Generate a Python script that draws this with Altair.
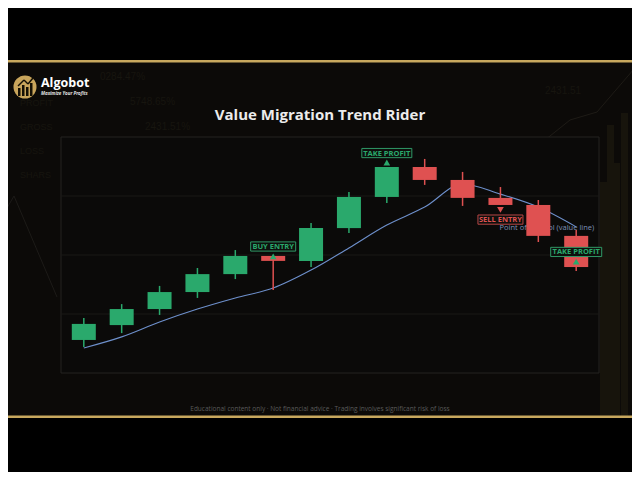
import altair as alt
import pandas as pd

# ---------------- data ----------------
idx = list(range(14))
opens = [14.0, 20.3, 27.1, 34.3, 41.9, 49.6, 47.5, 61.4, 74.6, 87.3, 81.8, 74.2, 71.2, 58.1]
closes = [20.8, 27.1, 34.3, 41.9, 49.6, 47.5, 61.4, 74.6, 87.3, 81.8, 74.2, 71.2, 58.1, 44.9]
highs = [23.3, 29.2, 36.9, 44.5, 52.1, 49.6, 63.6, 76.7, 87.3, 90.7, 85.2, 78.8, 73.3, 60.6]
lows = [11.0, 16.9, 24.6, 31.8, 39.8, 35.2, 44.9, 59.3, 72.0, 79.7, 70.8, 71.2, 55.5, 43.2]
value_line = [10.6, 15.3, 21.6, 27.1, 31.8, 36.0, 43.6, 53.0, 62.7, 70.3, 80.1, 75.8, 70.3, 61.9]

grid_values = [25, 50, 75]

label_text = ["BUY ENTRY", "TAKE PROFIT", "SELL ENTRY", "TAKE PROFIT"]
label_idx = [5, 8, 11, 13]
label_y = [53.6, 93.2, 65.0, 51.3]
label_w = [45, 50, 45, 51]
label_kind = ["buy", "buy", "sell", "buy"]
marker_y = [49.4, 89.2, 69.1, 47.2]
marker_shape = ["triangle-up", "triangle-up", "triangle-down", "triangle-up"]

poc_text = "Point of Control (value line)"
poc_idx = 13
poc_y = 61.3

title_text = "Value Migration Trend Rider"
footer_text = "Educational content only  \u00b7  Not financial advice  \u00b7  Trading involves significant risk of loss"

GREEN = "#2aa96c"
RED = "#df5151"
GOLD = "#c8a85e"
W, H = 538, 236

candles = pd.DataFrame({"i": idx, "open": opens, "close": closes, "high": highs, "low": lows})
candles["dir"] = ["up" if c >= o else "down" for o, c in zip(opens, closes)]
line_df = pd.DataFrame({"i": idx, "v": value_line})
grid_df = pd.DataFrame({"g": grid_values})
labels = pd.DataFrame({"i": label_idx, "y": label_y, "w": label_w, "t": label_text,
                       "kind": label_kind, "my": marker_y, "shape": marker_shape})
labels["y0"] = labels["y"] - 1.95
labels["y1"] = labels["y"] + 1.95
poc_df = pd.DataFrame({"i": [poc_idx], "y": [poc_y], "t": [poc_text]})

xs = alt.Scale(domain=[-0.47, 13.47], nice=False, zero=False)
ys = alt.Scale(domain=[0, 100], nice=False, zero=False)
X = lambda f: alt.X(f, type="quantitative", scale=xs, axis=None)
Y = lambda f: alt.Y(f, type="quantitative", scale=ys, axis=None)
dirc = alt.Color("dir:N", scale=alt.Scale(domain=["up", "down"], range=[GREEN, RED]), legend=None)
kindc = alt.Color("kind:N", scale=alt.Scale(domain=["buy", "sell"], range=[GREEN, RED]), legend=None)

one = alt.Data(values=[{"a": 1}])

# page coordinate -> plot coordinate (plot origin at page (61,137))
def px(x):
    return x - 61

def py(y):
    return y - 137

def rect(x0, y0, x1, y1, color, **kw):
    return alt.Chart(one).mark_rect(color=color, **kw).encode(
        x=alt.value(px(x0)), x2=alt.value(px(x1)), y=alt.value(py(y0)), y2=alt.value(py(y1)))

def seg(x0, y0, x1, y1, color, w=1):
    return alt.Chart(one).mark_rule(color=color, strokeWidth=w).encode(
        x=alt.value(px(x0)), x2=alt.value(px(x1)), y=alt.value(py(y0)), y2=alt.value(py(y1)))

def txt(x, y, s, size, color, **kw):
    return alt.Chart(one).mark_text(text=s, fontSize=size, color=color, baseline="middle", **kw).encode(
        x=alt.value(px(x)), y=alt.value(py(y)))

layers = []
# frame
layers.append(rect(0, 62, 640, 417, "#0c0a08"))
# ghost background decorations
ghost = "#17150f"
layers += [
    txt(100, 77, "0284.47%", 10, ghost, align="left"),
    txt(130, 102, "5748.65%", 10, ghost, align="left"),
    txt(145, 127, "2431.51%", 10, ghost, align="left"),
    txt(20, 103, "PROFIT", 9, ghost, align="left"),
    txt(20, 127, "GROSS", 9, ghost, align="left"),
    txt(20, 151, "LOSS", 9, ghost, align="left"),
    txt(20, 175, "SHARS", 9, ghost, align="left"),
    txt(545, 91, "2431.51", 10, ghost, align="left"),
    seg(0, 220, 14, 196, "#1d1b18"),
    seg(14, 196, 57, 297, "#1d1b18"),
    seg(545, 140, 570, 120, "#1e1b16"),
    seg(570, 120, 597, 112, "#1e1b16"),
    seg(597, 112, 640, 62, "#1e1b16"),
]
for (x0, x1, y0) in [(600, 607, 182), (607, 614, 125), (614, 620, 163), (621, 628, 113), (633, 640, 123)]:
    layers.append(rect(x0, y0, x1, 416, "#17140c"))
# gold lines
layers.append(rect(0, 60, 640, 62.5, GOLD))
layers.append(rect(0, 415.5, 640, 418, GOLD))
# panel
layers.append(alt.Chart(one).mark_rect(fill="#0b0a09", stroke="#252320", strokeWidth=1).encode(
    x=alt.value(0), x2=alt.value(W), y=alt.value(0), y2=alt.value(H)))
# grid
layers.append(alt.Chart(grid_df).mark_rule(color="#1a1816", strokeWidth=1).encode(
    y=Y("g"), x=alt.value(0), x2=alt.value(W)))
# point of control label
layers.append(alt.Chart(poc_df).mark_text(align="right", baseline="middle", dx=18, fontSize=7.5,
                                          font="Open Sans", color="#7d91b8").encode(
    x=X("i"), y=Y("y"), text="t:N"))
# value line
layers.append(alt.Chart(line_df).mark_line(color="#6e90cc", strokeWidth=1.1, interpolate="monotone").encode(
    x=X("i"), y=Y("v")))
# wicks and bodies
layers.append(alt.Chart(candles).mark_rule(strokeWidth=1.5).encode(
    x=X("i"), y=Y("low"), y2="high", color=dirc))
layers.append(alt.Chart(candles).mark_bar(size=24, opacity=1).encode(
    x=X("i"), y=Y("open"), y2="close", color=dirc))
# signal markers
for shp in ["triangle-up", "triangle-down"]:
    layers.append(alt.Chart(labels[labels["shape"] == shp]).mark_point(
        shape=shp, filled=True, size=45, opacity=1).encode(x=X("i"), y=Y("my"), color=kindc))
# signal labels
layers.append(alt.Chart(labels).mark_bar(fill="#0e100d", strokeWidth=1, opacity=1).encode(
    x=X("i"), y=Y("y0"), y2="y1", size=alt.Size("w:Q", scale=None, legend=None),
    stroke=alt.Stroke("kind:N", scale=alt.Scale(domain=["buy", "sell"], range=["#2f9866", "#b84646"]), legend=None)))
layers.append(alt.Chart(labels).mark_text(fontSize=7.5, font="Open Sans", fontWeight="bold",
                                          baseline="middle", align="center", dy=0.5).encode(
    x=X("i"), y=Y("y"), text="t:N",
    color=alt.Color("kind:N", scale=alt.Scale(domain=["buy", "sell"], range=["#4cc489", "#e66161"]), legend=None)))
# titles, logo, footer
layers.append(txt(320, 115, title_text, 15, "#ececec", align="center", font="Open Sans", fontWeight="bold"))
layers.append(txt(320, 409, footer_text, 6.5, "#5a5a5a", align="center", font="Open Sans"))
layers.append(alt.Chart(one).mark_point(filled=True, shape="circle", size=530, color="#c9a55c", opacity=1).encode(
    x=alt.value(px(25)), y=alt.value(py(87))))
for (x0, y0) in [(18, 88), (22, 85), (26, 87), (30, 83)]:
    layers.append(rect(x0, y0, x0 + 2.5, 96, "#151005"))
layers.append(seg(18, 86, 24, 80, "#151005", 1.5))
layers.append(seg(24, 80, 28, 84, "#151005", 1.5))
layers.append(seg(28, 84, 33, 78, "#151005", 1.5))
layers.append(txt(41, 83, "Algobot", 12.5, "#ffffff", align="left", font="Open Sans", fontWeight="bold"))
layers.append(txt(41, 94, "Maximize Your Profits", 4.5, "#e0e0e0", align="left", font="Open Sans",
                  fontWeight="bold", fontStyle="italic"))

chart = alt.layer(*layers).properties(
    width=W, height=H,
    padding={"left": 53, "top": 129, "right": 624 - 53 - W, "bottom": 464 - 129 - H},
    autosize=alt.AutoSizeParams(type="none"),
).configure(background="#000000").configure_view(stroke=None)

chart.save("out.html", embed_options={"renderer": "svg", "actions": False})
